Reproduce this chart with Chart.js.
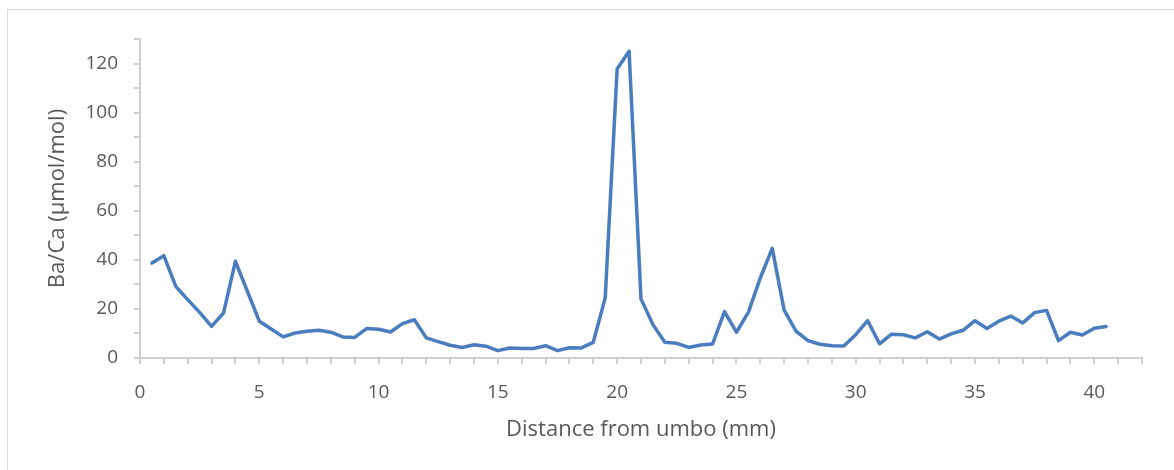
<!DOCTYPE html>
<html>
<head>
<meta charset="utf-8">
<script src="https://cdn.jsdelivr.net/npm/chart.js@4"></script>
<style>
  html, body { margin: 0; padding: 0; background: #fff; overflow: hidden; }
  #wrap { position: relative; width: 1174px; height: 470px; }
  #frame { position: absolute; left: 7px; top: 9px; width: 1300px; height: 600px; border: 1px solid #d9d9d9; }
  #baChart { position: absolute; left: 0; top: 0; }
</style>
</head>
<body>
<div id="wrap">
  <div id="frame"></div>
  <canvas id="baChart" width="1174" height="470"></canvas>
</div>
<script>
// Distance from umbo (mm)
const distance = [
  0.5, 1.0, 1.5, 2.0, 2.5, 3.0, 3.5, 4.0, 4.5, 5.0,
  5.5, 6.0, 6.5, 7.0, 7.5, 8.0, 8.5, 9.0, 9.5, 10.0,
  10.5, 11.0, 11.5, 12.0, 12.5, 13.0, 13.5, 14.0, 14.5, 15.0,
  15.5, 16.0, 16.5, 17.0, 17.5, 18.0, 18.5, 19.0, 19.5, 20.0,
  20.5, 21.0, 21.5, 22.0, 22.5, 23.0, 23.5, 24.0, 24.5, 25.0,
  25.5, 26.0, 26.5, 27.0, 27.5, 28.0, 28.5, 29.0, 29.5, 30.0,
  30.5, 31.0, 31.5, 32.0, 32.5, 33.0, 33.5, 34.0, 34.5, 35.0,
  35.5, 36.0, 36.5, 37.0, 37.5, 38.0, 38.5, 39.0, 39.5, 40.0,
  40.5
];

// Ba/Ca (µmol/mol)
const baCa = [
  38.7, 41.7, 29.2, 23.8, 18.6, 12.9, 18.3, 39.4, 27.2, 15.0,
  11.8, 8.6, 10.2, 10.9, 11.3, 10.5, 8.6, 8.4, 12.0, 11.7,
  10.6, 14.0, 15.6, 8.2, 6.7, 5.2, 4.3, 5.4, 4.8, 3.0,
  4.1, 3.9, 3.9, 5.0, 3.0, 4.2, 4.1, 6.4, 24.5, 117.8,
  125.0, 24.1, 13.6, 6.4, 6.0, 4.3, 5.3, 5.7, 18.9, 10.5,
  18.6, 32.6, 44.7, 19.5, 10.9, 7.1, 5.6, 5.0, 4.9, 9.5,
  15.2, 5.8, 9.7, 9.5, 8.2, 10.7, 7.7, 9.8, 11.3, 15.2,
  12.0, 15.0, 17.1, 14.3, 18.5, 19.4, 7.1, 10.5, 9.4, 12.1,
  12.8
];

const xLabelStep = 5;
const yLabelStep = 20;

const axisColor = '#d0d0d0';
const textColor = '#595959';
const fontFamily = '"Open Sans", "Liberation Sans", sans-serif';

const points = distance.map((d, i) => ({ x: d, y: baCa[i] }));

new Chart(document.getElementById('baChart'), {
  type: 'line',
  data: {
    datasets: [{
      label: 'Ba/Ca',
      data: points,
      borderColor: '#4a7dbf',
      borderWidth: 3.5,
      borderJoinStyle: 'round',
      borderCapStyle: 'round',
      pointRadius: 0,
      tension: 0,
      fill: false
    }]
  },
  options: {
    responsive: false,
    animation: false,
    layout: { padding: { top: 39, right: 32, left: 0, bottom: 0 } },
    plugins: {
      legend: { display: false },
      tooltip: { enabled: false }
    },
    scales: {
      x: {
        type: 'linear',
        min: 0,
        max: 42,
        afterFit: scale => { scale.height = 112; },
        ticks: {
          stepSize: 1,
          autoSkip: false,
          maxRotation: 0,
          padding: 17,
          color: textColor,
          font: { family: fontFamily, size: 19 },
          callback: v => (v % xLabelStep === 0 ? v : '')
        },
        grid: { drawOnChartArea: false, drawTicks: true, tickLength: 6, tickColor: axisColor, lineWidth: 2 },
        border: { display: true, color: axisColor, width: 2 },
        title: {
          display: true,
          text: 'Distance from umbo (mm)',
          color: textColor,
          font: { family: fontFamily, size: 22 },
          padding: { top: 0, bottom: 27 }
        }
      },
      y: {
        min: 0,
        max: 130,
        afterFit: scale => { scale.width = 140; },
        ticks: {
          stepSize: 10,
          autoSkip: false,
          padding: 16,
          color: textColor,
          font: { family: fontFamily, size: 19 },
          callback: v => (v % yLabelStep === 0 ? v : '')
        },
        grid: { drawOnChartArea: false, drawTicks: true, tickLength: 6, tickColor: axisColor, lineWidth: 2 },
        border: { display: true, color: axisColor, width: 2 },
        title: {
          display: true,
          text: 'Ba/Ca (µmol/mol)',
          color: textColor,
          font: { family: fontFamily, size: 22 },
          padding: { top: 45, bottom: 0 }
        }
      }
    }
  }
});
</script>
</body>
</html>
